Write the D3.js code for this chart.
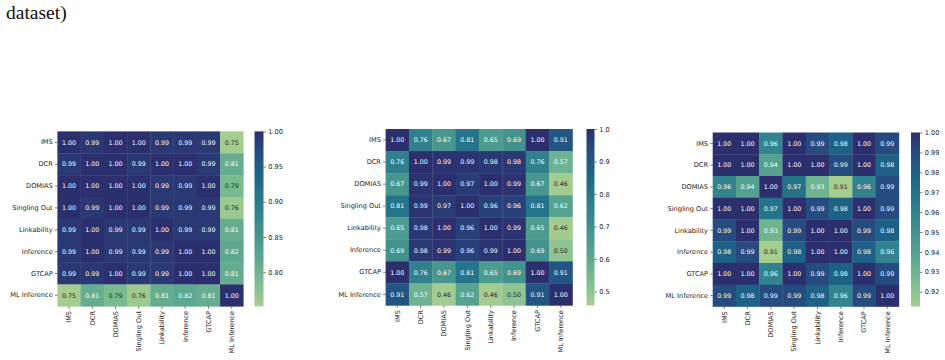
<!DOCTYPE html>
<html><head><meta charset="utf-8">
<script src="https://cdn.jsdelivr.net/npm/d3@7"></script>
<style>body{margin:0;background:#fff}svg{display:block}</style>
</head><body><svg id="c" width="945" height="360"></svg>
<script>
const categories = ["IMS","DCR","DOMIAS","Singling Out","Linkability","Inference","GTCAP","ML Inference"];
const valuesA = [
 [1.00,0.99,1.00,1.00,0.99,0.99,0.99,0.75],
 [0.99,1.00,1.00,0.99,1.00,1.00,0.99,0.81],
 [1.00,1.00,1.00,1.00,0.99,0.99,1.00,0.79],
 [1.00,0.99,1.00,1.00,0.99,0.99,0.99,0.76],
 [0.99,1.00,0.99,0.99,1.00,0.99,0.99,0.81],
 [0.99,1.00,0.99,0.99,0.99,1.00,1.00,0.82],
 [0.99,0.99,1.00,0.99,0.99,1.00,1.00,0.81],
 [0.75,0.81,0.79,0.76,0.81,0.82,0.81,1.00]];
const valuesB = [
 [1.00,0.76,0.67,0.81,0.65,0.69,1.00,0.91],
 [0.76,1.00,0.99,0.99,0.98,0.98,0.76,0.57],
 [0.67,0.99,1.00,0.97,1.00,0.99,0.67,0.46],
 [0.81,0.99,0.97,1.00,0.96,0.96,0.81,0.62],
 [0.65,0.98,1.00,0.96,1.00,0.99,0.65,0.46],
 [0.69,0.98,0.99,0.96,0.99,1.00,0.69,0.50],
 [1.00,0.76,0.67,0.81,0.65,0.69,1.00,0.91],
 [0.91,0.57,0.46,0.62,0.46,0.50,0.91,1.00]];
const valuesC = [
 [1.00,1.00,0.96,1.00,0.99,0.98,1.00,0.99],
 [1.00,1.00,0.94,1.00,1.00,0.99,1.00,0.98],
 [0.96,0.94,1.00,0.97,0.93,0.91,0.96,0.99],
 [1.00,1.00,0.97,1.00,0.99,0.98,1.00,0.99],
 [0.99,1.00,0.93,0.99,1.00,1.00,0.99,0.98],
 [0.98,0.99,0.91,0.98,1.00,1.00,0.98,0.96],
 [1.00,1.00,0.96,1.00,0.99,0.98,1.00,0.99],
 [0.99,0.98,0.99,0.99,0.98,0.96,0.99,1.00]];
const colorMin = [0.7516, 0.457, 0.9126];
const colorMax = [1.0, 1.0, 1.0];
const cbTicksA = [0.80,0.85,0.90,0.95,1.00];
const cbTicksB = [0.5,0.6,0.7,0.8,0.9,1.0];
const cbTicksC = [0.92,0.93,0.94,0.95,0.96,0.97,0.98,0.99,1.00];
const cbFormats = [".2f", ".1f", ".2f"];

// crest-like colormap stops (position, colour)
const crestPos = [0, 0.15, 0.30, 0.45, 0.60, 0.75, 0.88, 1.0];
const crestCol = ["#a5cd90","#7bbb91","#56a390","#3f8f8e","#2a7b8c","#1d6588","#254c80","#2c2f6e"];
const crest = d3.scaleLinear().domain(crestPos).range(crestCol).interpolate(d3.interpolateRgb).clamp(true);

const panels = [
  {vals: valuesA, ticks: cbTicksA, x0: 57.4, x1: 243.3, y0: 131.4, y1: 306.3, cbx: 254.5, cbw: 9},
  {vals: valuesB, ticks: cbTicksB, x0: 385.6, x1: 572.5, y0: 129.0, y1: 305.4, cbx: 586.5, cbw: 8},
  {vals: valuesC, ticks: cbTicksC, x0: 712.7, x1: 898.9, y0: 132.5, y1: 306.5, cbx: 911, cbw: 9}
];

const svg = d3.select("#c");
svg.append("text").attr("x", 6).attr("y", 19)
  .style("font-family", "'Liberation Serif','Times New Roman',serif").style("font-size", "19.5px")
  .attr("fill", "#111").text("dataset)");

function lum(c) {
  const rgb = d3.rgb(c);
  const f = v => { v /= 255; return v <= 0.03928 ? v / 12.92 : Math.pow((v + 0.055) / 1.055, 2.4); };
  return 0.2126 * f(rgb.r) + 0.7152 * f(rgb.g) + 0.0722 * f(rgb.b);
}

const FONT = "'DejaVu Sans', sans-serif";
const tickLen = 2.4, tickPad = 2.3;

panels.forEach((p, pi) => {
  const g = svg.append("g");
  const x = d3.scaleBand().domain(categories).range([p.x0, p.x1]);
  const y = d3.scaleBand().domain(categories).range([p.y0, p.y1]);
  const cs = d3.scaleLinear().domain([colorMin[pi], colorMax[pi]]).range([0, 1]);
  const color = v => crest(cs(v));
  const cells = [];
  p.vals.forEach((row, i) => row.forEach((v, j) => cells.push({r: categories[i], c: categories[j], v})));
  g.selectAll("rect.cell").data(cells).join("rect").attr("class", "cell")
    .attr("x", d => x(d.c)).attr("y", d => y(d.r))
    .attr("width", x.bandwidth() + 0.3).attr("height", y.bandwidth() + 0.3)
    .attr("fill", d => color(d.v));
  g.selectAll("text.ann").data(cells).join("text").attr("class", "ann")
    .attr("x", d => x(d.c) + x.bandwidth() / 2).attr("y", d => y(d.r) + y.bandwidth() / 2)
    .attr("dy", "0.36em").attr("text-anchor", "middle")
    .style("font-family", FONT).style("font-size", "6.3px")
    .attr("fill", d => lum(color(d.v)) > 0.408 ? "#262626" : "#ffffff")
    .text(d => d3.format(".2f")(d.v));

  // y axis
  const ya = g.append("g").attr("transform", `translate(${p.x0},0)`)
    .call(d3.axisLeft(y).tickSize(tickLen).tickPadding(tickPad));
  ya.select(".domain").remove();
  ya.selectAll("line").attr("stroke", "#222").attr("stroke-width", 0.6);
  ya.selectAll("text").style("font-family", FONT).style("font-size", "6.6px").attr("fill", "#222");

  // x axis
  const xa = g.append("g").attr("transform", `translate(0,${p.y1})`)
    .call(d3.axisBottom(x).tickSize(tickLen).tickPadding(tickPad));
  xa.select(".domain").remove();
  xa.selectAll("line").attr("stroke", "#222").attr("stroke-width", 0.6);
  xa.selectAll("text").style("font-family", FONT).style("font-size", "6.6px").attr("fill", "#222")
    .attr("transform", "rotate(-90)").attr("text-anchor", "end")
    .attr("x", -(tickLen + tickPad)).attr("y", 0).attr("dy", "0.35em");

  // colorbar
  const gid = "grad" + pi;
  const grad = svg.append("defs").append("linearGradient").attr("id", gid)
    .attr("x1", 0).attr("y1", 1).attr("x2", 0).attr("y2", 0);
  d3.range(0, 1.0001, 0.02).forEach(t => grad.append("stop").attr("offset", t).attr("stop-color", crest(t)));
  g.append("rect").attr("x", p.cbx).attr("y", p.y0).attr("width", p.cbw).attr("height", p.y1 - p.y0)
    .attr("fill", `url(#${gid})`);
  const cy = d3.scaleLinear().domain([colorMin[pi], colorMax[pi]]).range([p.y1, p.y0]);
  const ca = g.append("g").attr("transform", `translate(${p.cbx + p.cbw},0)`)
    .call(d3.axisRight(cy).tickValues(p.ticks).tickFormat(d3.format(cbFormats[pi])).tickSize(tickLen).tickPadding(tickPad));
  ca.select(".domain").remove();
  ca.selectAll("line").attr("stroke", "#222").attr("stroke-width", 0.6);
  ca.selectAll("text").style("font-family", FONT).style("font-size", "6.6px").attr("fill", "#222");
});
</script></body></html>
